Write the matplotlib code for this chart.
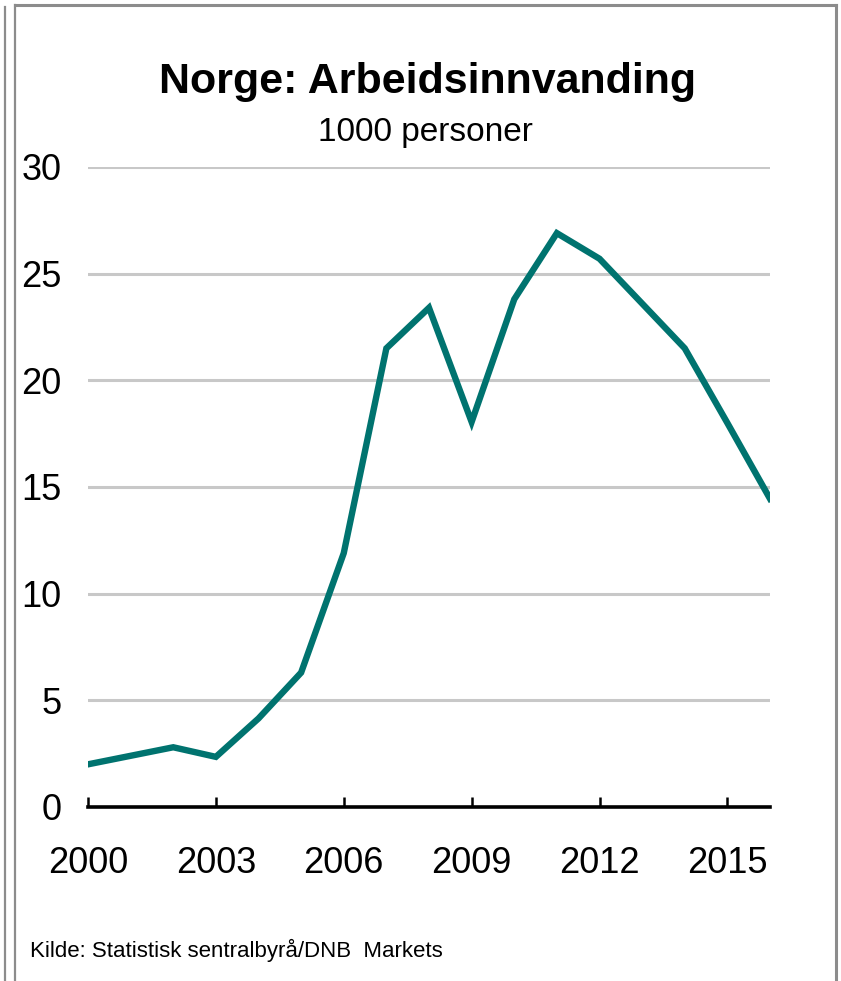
import matplotlib.pyplot as plt
from matplotlib.lines import Line2D

plt.rcParams['font.family'] = ['Liberation Sans', 'DejaVu Sans']

# Arbeidsinnvandring til Norge, 1000 personer (lest av figuren)
years = [2000, 2001, 2002, 2003, 2004, 2005, 2006, 2007, 2008,
         2009, 2010, 2011, 2012, 2013, 2014, 2015, 2016]
values = [2.0, 2.4, 2.8, 2.35, 4.15, 6.3, 11.9, 21.5, 23.4,
          18.05, 23.8, 26.9, 25.7, 23.6, 21.5, 18.0, 14.45]
x_ticks = [2000, 2003, 2006, 2009, 2012, 2015]
y_ticks = [0, 5, 10, 15, 20, 25, 30]

title = "Norge: Arbeidsinnvanding"
subtitle = "1000 personer"
source = "Kilde: Statistisk sentralbyrå/DNB  Markets"

W, H = 841, 981
fig = plt.figure(figsize=(W / 100, H / 100), dpi=100)

# axes placed in pixel terms: x 88..770, y(0)=807, y(30)=167
ax = fig.add_axes([88 / W, 1 - 807 / H, (770 - 88) / W, (807 - 167) / H])

ax.plot(years, values, color='#00736f', linewidth=4.6, solid_joinstyle='miter', zorder=3)

ax.set_xlim(2000, 2016)
ax.set_ylim(0, 30)
ax.set_xticks(x_ticks)
ax.set_yticks(y_ticks)
ax.yaxis.grid(True, color='#c8c8c8', linewidth=2.2)
ax.set_axisbelow(True)

for s in ['top', 'right', 'left']:
    ax.spines[s].set_visible(False)
ax.spines['bottom'].set_linewidth(2.6)
ax.spines['bottom'].set_color('black')
ax.spines['bottom'].set_zorder(4)

ax.tick_params(axis='x', direction='in', length=7, width=1.8, pad=28, labelsize=26)
ax.tick_params(axis='y', length=0, pad=19, labelsize=26)

fig.text(0.508, 1 - 82 / H, title, ha='center', va='center', fontsize=31, fontweight='bold')
fig.text(0.506, 1 - 133 / H, subtitle, ha='center', va='center', fontsize=24)
fig.text(30 / W, 1 - 950 / H, source, ha='left', va='center', fontsize=16)

# grey frame around the chart
frame = dict(color='#8c8c8c', transform=fig.transFigure, clip_on=False)
fig.add_artist(Line2D([4.5 / W, 4.5 / W], [0, 1 - 7 / H], linewidth=1.6, **frame))
fig.add_artist(Line2D([15 / W, 15 / W], [0, 1 - 4.5 / H], linewidth=1.6, **frame))
fig.add_artist(Line2D([15 / W, 836 / W], [1 - 4.5 / H, 1 - 4.5 / H], linewidth=2.2, **frame))
fig.add_artist(Line2D([836 / W, 836 / W], [0, 1 - 4.5 / H], linewidth=2.2, **frame))

fig.savefig("out.png", dpi=100)
